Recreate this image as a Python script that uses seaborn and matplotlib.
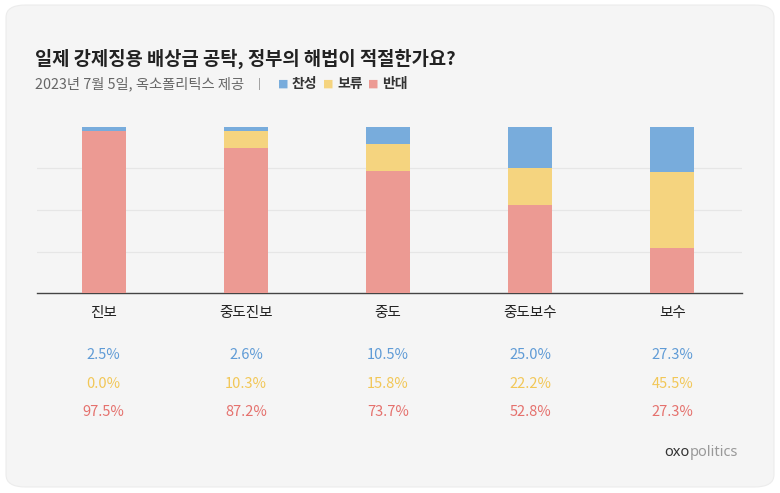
import matplotlib
matplotlib.use("Agg")
import matplotlib.pyplot as plt
import matplotlib.transforms as mtransforms
from matplotlib.patches import FancyBboxPatch
import pandas as pd
import seaborn as sns

# data
groups = ["진보", "중도진보", "중도", "중도보수", "보수"]
agree = [2.5, 2.6, 10.5, 25.0, 27.3]      # 찬성
hold = [0.0, 10.3, 15.8, 22.2, 45.5]      # 보류
oppose = [97.5, 87.2, 73.7, 52.8, 27.3]   # 반대

c_blue, c_yellow, c_red = "#78acdc", "#f5d47f", "#ec9a93"
t_blue, t_yellow, t_red = "#5f9bd6", "#f2c757", "#e5716d"

sns.set_theme(style="white")
plt.rcParams["font.family"] = ["Noto Sans CJK KR", "DejaVu Sans"]

df = pd.DataFrame({"group": groups, "agree": agree, "hold": hold, "oppose": oppose})
df["top"] = df["oppose"] + df["hold"] + df["agree"]
df["mid"] = df["oppose"] + df["hold"]

fig = plt.figure(figsize=(7.8, 4.93), dpi=100)
fig.patch.set_facecolor("white")
card = FancyBboxPatch((6 / 780, 6 / 493), 768 / 780, 482 / 493,
                      boxstyle="round,pad=0,rounding_size=0.025",
                      transform=fig.transFigure, facecolor="#f5f5f5",
                      edgecolor="#ececec", linewidth=0.8, zorder=-10)
fig.patches.append(card)

ax = fig.add_axes([37 / 780, 1 - 293 / 493, 705 / 780, 166 / 493])
ax.set_facecolor("none")
ax.set_zorder(2)

# stacked bars: draw cumulative totals, tallest first
w = 0.31
for col, colour in [("top", c_blue), ("mid", c_yellow), ("oppose", c_red)]:
    sns.barplot(data=df, x="group", y=col, color=colour, width=w, ax=ax,
                saturation=1, linewidth=0, zorder=3)

ax.set_ylim(0, 100)
ax.set_xlim(-0.47, 4.49)
ax.set_yticks([25, 50, 75])
ax.yaxis.grid(True, color="#e6e6e6", linewidth=0.9)
ax.set_yticklabels([])
ax.tick_params(axis="y", length=0)
ax.tick_params(axis="x", length=0, pad=9, labelsize=10.5, labelcolor="#222222")
ax.set_xlabel("")
ax.set_ylabel("")
for s in ["top", "right", "left"]:
    ax.spines[s].set_visible(False)
ax.spines["bottom"].set_color("#444444")
ax.spines["bottom"].set_linewidth(1.0)
ax.set_axisbelow(True)

trans = mtransforms.blended_transform_factory(ax.transData, fig.transFigure)
rows = [(agree, t_blue, 355), (hold, t_yellow, 384), (oppose, t_red, 412)]
for vals, col, ypix in rows:
    for i, v in enumerate(vals):
        ax.text(i, 1 - ypix / 493, f"{v:.1f}%", transform=trans, ha="center",
                va="center", color=col, fontsize=10.5)

fig.text(35 / 780, 1 - 59 / 493, "일제 강제징용 배상금 공탁, 정부의 해법이 적절한가요?",
         fontsize=13.5, fontweight="bold", color="#222222", va="center")
fig.text(35 / 780, 1 - 84 / 493, "2023년 7월 5일, 옥소폴리틱스 제공", fontsize=10.3,
         color="#666666", va="center")
fig.text(258 / 780, 1 - 84 / 493, "|", fontsize=8, color="#888888", va="center")
legend_items = [("찬성", c_blue, 278), ("보류", c_yellow, 323), ("반대", c_red, 368)]
for lab, col, xpix in legend_items:
    fig.text(xpix / 780, 1 - 84 / 493, "■", fontsize=8, color=col, va="center",
             family=["DejaVu Sans"])
    fig.text((xpix + 14) / 780, 1 - 84 / 493, lab, fontsize=10, color="#333333",
             va="center", fontweight="bold")

fig.text(664 / 780, 1 - 453 / 493, "oxo", fontsize=10.5, color="#333333",
         va="center", fontweight="bold", family=["Noto Sans", "DejaVu Sans"])
fig.text(690 / 780, 1 - 453 / 493, "politics", fontsize=10.5, color="#999999",
         va="center", family=["Noto Sans", "DejaVu Sans"])

fig.savefig("out.png", dpi=100, facecolor=fig.get_facecolor())
